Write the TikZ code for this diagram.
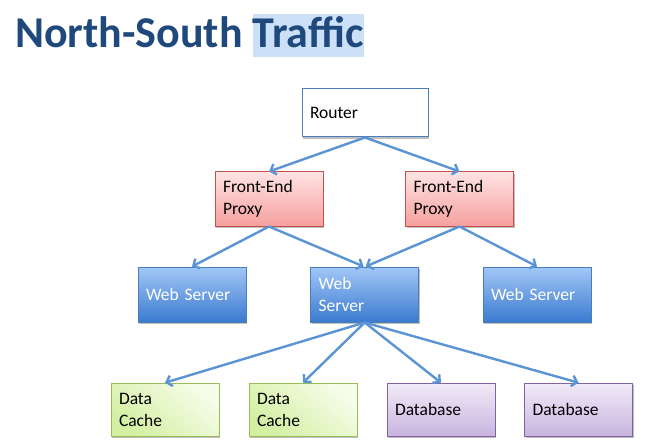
\documentclass[tikz,border=0pt]{standalone}
\usepackage{fontspec}
\setmainfont{Carlito}
\usetikzlibrary{arrows.meta,shadows}
\definecolor{titleblue}{HTML}{1F497D}
\definecolor{hl}{HTML}{CCE0F8}
\definecolor{arrowblue}{HTML}{5A94D4}
\definecolor{routerborder}{HTML}{4A7EBB}
\definecolor{proxytop}{HTML}{FFE3E3}
\definecolor{proxybot}{HTML}{F5A09E}
\definecolor{proxyborder}{HTML}{C0504D}
\definecolor{webtop}{HTML}{A2C7F7}
\definecolor{webbot}{HTML}{3B7AD0}
\definecolor{webborder}{HTML}{4A7EBB}
\definecolor{cachelight}{HTML}{F6FDEA}
\definecolor{cachedark}{HTML}{D3EFA2}
\definecolor{cacheborder}{HTML}{9BBB59}
\definecolor{dbtop}{HTML}{F1EBF8}
\definecolor{dbbot}{HTML}{C8B4DF}
\definecolor{dbborder}{HTML}{8064A2}
\tikzset{
  box/.style={draw, line width=1pt, text width=92pt, minimum height=54pt,
    inner xsep=8pt, inner ysep=0pt, align=left,
    font=\fontsize{17.5}{22.5}\selectfont,
    drop shadow={shadow xshift=1.2pt, shadow yshift=-1.8pt, opacity=0.25, fill=black}},
  routerbox/.style={box, fill=white, draw=routerborder, text width=110pt, minimum height=48pt},
  proxybox/.style={box, draw=proxyborder, top color=proxytop, bottom color=proxybot},
  webbox/.style={box, draw=webborder, top color=webtop, bottom color=webbot, text=white, minimum height=55pt},
  cachebox/.style={box, draw=cacheborder, top color=cachelight, bottom color=cachedark, shading angle=-40, minimum height=53pt},
  dbbox/.style={box, draw=dbborder, top color=dbtop, bottom color=dbbot, minimum height=53pt},
  link/.style={draw=arrowblue, line width=2.4pt, -{Straight Barb[length=5pt,width=11pt]}}
}
\begin{document}
\begin{tikzpicture}[x=1pt,y=-1pt]
\useasboundingbox (0,0) rectangle (660,446);
\node[anchor=base west, inner sep=0pt, text=titleblue,
  font=\fontsize{44}{46}\selectfont\bfseries] (title) at (15,48)
  {North-South {\setlength{\fboxsep}{0pt}\colorbox{hl}{\rule[-9.3pt]{0pt}{43.3pt}Traffic}}};

\node[routerbox] (router) at (365,113) {Router};

\node[proxybox] (proxyL) at (269,199) {Front-End\\Proxy};
\node[proxybox] (proxyR) at (459.5,199) {Front-End\\Proxy};

\node[webbox] (webL) at (192,294.5) {Web Server};
\node[webbox] (webM) at (364.7,294.5) {Web\\Server};
\node[webbox] (webR) at (537,294.5) {Web Server};

\node[cachebox] (cache1) at (165,409.7) {Data\\Cache};
\node[cachebox] (cache2) at (303,409.7) {Data\\Cache};
\node[dbbox] (db1) at (441,409.7) {Database};
\node[dbbox] (db2) at (578.5,409.7) {Database};

\draw[link] (router.south) -- (proxyL.north);
\draw[link] (router.south) -- (proxyR.north);
\draw[link] (proxyL.south) -- (webL.north);
\draw[link] (proxyL.south) -- ([xshift=-1pt]webM.north);
\draw[link] (proxyR.south) -- ([xshift=1pt]webM.north);
\draw[link] (proxyR.south) -- (webR.north);
\draw[link] (webM.south) -- (cache1.north);
\draw[link] (webM.south) -- (cache2.north);
\draw[link] (webM.south) -- (db1.north);
\draw[link] (webM.south) -- (db2.north);
\end{tikzpicture}
\end{document}
